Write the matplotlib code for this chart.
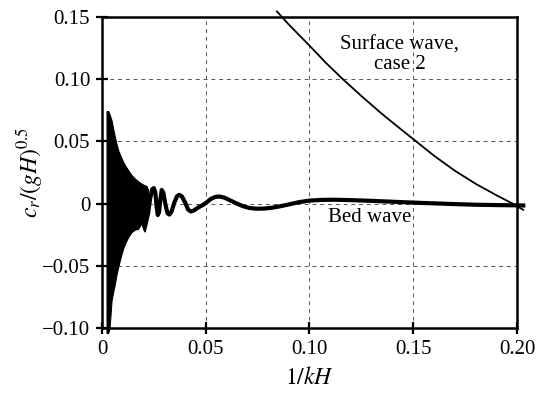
import numpy as np
import matplotlib
matplotlib.use("Agg")
import matplotlib.pyplot as plt

plt.rcParams["font.family"] = ["Liberation Serif", "DejaVu Serif"]
plt.rcParams["mathtext.fontset"] = "stix"

# dense, unresolved part of the bed wave (drawn as a filled band)
dense_x = [0.0022, 0.0030, 0.0036, 0.0040, 0.0046, 0.0054, 0.0062, 0.0070, 0.0078, 0.0090,
           0.0102, 0.0114, 0.0126, 0.0142, 0.0158, 0.0174, 0.0190, 0.0200, 0.0206, 0.0215,
           0.0222]
dense_upper = [0.0744, 0.0744, 0.072, 0.070, 0.067, 0.060, 0.0537, 0.048, 0.043, 0.038,
               0.0336, 0.030, 0.0269, 0.023, 0.0202, 0.018, 0.0161, 0.0152, 0.0148, 0.0140,
               0.0110]
dense_lower = [-0.104, -0.104, -0.100, -0.092, -0.078, -0.071, -0.0645, -0.057, -0.051, -0.043,
               -0.036, -0.031, -0.027, -0.0229, -0.021, -0.0202, -0.016, -0.021, -0.0225, -0.016,
               -0.006]

# resolved part of the bed wave
bed_x = [0.0212, 0.0222, 0.0232, 0.0242, 0.0250, 0.0257, 0.0263, 0.0269, 0.0275, 0.0281,
         0.0288, 0.0296, 0.0306, 0.0316, 0.0325, 0.0335, 0.0349, 0.0362, 0.0373, 0.0385,
         0.0401, 0.0415, 0.0429, 0.0443, 0.0465, 0.0485, 0.0503, 0.0525, 0.0547, 0.0567,
         0.0590, 0.0620, 0.0650, 0.0680, 0.0710, 0.0744, 0.0780, 0.0820, 0.0860, 0.0900,
         0.0950, 0.1000, 0.1060, 0.1120, 0.1200, 0.1300, 0.1400, 0.1500, 0.1600, 0.1700,
         0.1800, 0.1900, 0.2000, 0.2030]
bed_y = [-0.0150, -0.0080, 0.0040, 0.0115, 0.0125, 0.0090, -0.0020, -0.0092, -0.0070, 0.0030,
         0.0110, 0.0085, -0.0010, -0.0078, -0.0088, -0.0065, 0.0010, 0.0060, 0.0070, 0.0058,
         0.0008, -0.0048, -0.0064, -0.0055, -0.0030, -0.0012, 0.0008, 0.0038, 0.0054, 0.0057,
         0.0048, 0.0024, 0.0000, -0.0021, -0.0035, -0.0041, -0.0040, -0.0033, -0.0021, -0.0007,
         0.0012, 0.0024, 0.0030, 0.0031, 0.0028, 0.0022, 0.0015, 0.0008, 0.0002, -0.0004,
         -0.0009, -0.0012, -0.0014, -0.0015]

# surface wave, case 2
surf_x = [0.0843, 0.0900, 0.1000, 0.1080, 0.1161, 0.1250, 0.1350, 0.1450, 0.1514, 0.1600,
          0.1700, 0.1800, 0.1900, 0.1979, 0.2030]
surf_y = [0.1545, 0.1440, 0.1270, 0.1130, 0.1000, 0.0865, 0.0720, 0.0585, 0.0500, 0.0385,
          0.0265, 0.0160, 0.0068, 0.0000, -0.0050]

x_ticks = [0, 0.05, 0.10, 0.15, 0.20]
x_labels = ["0", "0.05", "0.10", "0.15", "0.20"]
y_ticks = [-0.10, -0.05, 0, 0.05, 0.10, 0.15]
y_labels = ["\u22120.10", "\u22120.05", "0", "0.05", "0.10", "0.15"]

fig = plt.figure(figsize=(5.39, 3.93), dpi=100)
ax = fig.add_axes([0.1892, 0.1654, 0.9592 - 0.1892, 0.9567 - 0.1654])

# bed wave: filled band where the oscillation is too fast to resolve, then a thick line
ax.fill_between(dense_x, dense_lower, dense_upper, color="black", linewidth=0.8, clip_on=False, zorder=3)
ax.plot(bed_x, bed_y, color="black", linewidth=3.0, clip_on=False, zorder=3, solid_joinstyle="round")
ax.plot(surf_x, surf_y, color="black", linewidth=1.3, clip_on=False, zorder=3)

ax.text(0.1434, 0.1277, "Surface wave,", fontsize=15, ha="center", va="center")
ax.text(0.1434, 0.1115, "case 2", fontsize=15, ha="center", va="center")
ax.text(0.1289, -0.0108, "Bed wave", fontsize=15, ha="center", va="center")

ax.set_xlim(0, 0.2)
ax.set_ylim(-0.10, 0.15)
ax.set_xticks(x_ticks)
ax.set_xticklabels(x_labels)
ax.set_yticks(y_ticks)
ax.set_yticklabels(y_labels)
ax.tick_params(direction="inout", length=9, width=1.6, labelsize=15, pad=4)

ax.grid(True, linestyle=(0, (4, 4)), color="#555555", linewidth=0.7)
for s in ax.spines.values():
    s.set_linewidth(1.8)

ax.set_xlabel(r"$1/kH$", fontsize=17, labelpad=6)
ax.set_ylabel(r"$c_r/(gH)^{0.5}$", fontsize=17, labelpad=-2)

fig.savefig("out.png", dpi=100)
